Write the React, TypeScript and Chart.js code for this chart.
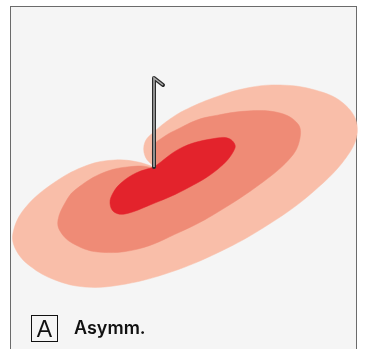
import React, { useEffect, useRef } from "react";
import { Chart, registerables } from "chart.js";

Chart.register(...registerables);

// Contour levels (outer → inner), points as [x, y] in plot units
const outerX = [154, 145, 145, 155, 170, 185, 213, 247, 280, 315, 343, 357, 350, 313, 263, 213, 165, 120, 85, 55, 30, 16, 13, 25, 55, 88, 115, 138, 154];
const outerY = [167, 156, 142, 131, 119, 110, 98, 88, 85, 90, 103, 125, 152, 192, 228, 255, 274, 285, 287, 280, 266, 250, 233, 208, 182, 165, 160, 162, 167];

const middleX = [154, 153, 165, 178, 197, 213, 247, 280, 298, 300, 292, 263, 213, 180, 138, 98, 72, 60, 58, 65, 75, 105, 138, 154];
const middleY = [168, 147, 136, 129, 120, 116, 111, 113, 124, 138, 156, 182, 215, 232, 249, 252, 243, 231, 220, 203, 190, 172, 166, 168];

const innerX = [154, 183, 217, 230, 235, 218, 184, 150, 125, 114, 110, 113, 121, 136, 154];
const innerY = [167, 147, 138, 139, 148, 169, 190, 205, 214, 212, 203, 193, 183, 173, 167];

const poleX = [154, 154, 163];
const poleY = [167, 78, 85];

const levelColors = ["#f9bea9", "#ef8b76", "#e3232c"];
const panelLabel = "A";
const panelTitle = "Asymm.";

const toPts = (xs: number[], ys: number[]) => xs.map((x, i) => ({ x, y: ys[i] }));

export default function App() {
  const ref = useRef<HTMLCanvasElement | null>(null);
  useEffect(() => {
    if (!ref.current) return;
    const shape = (xs: number[], ys: number[], c: string, order: number) => ({
      data: toPts(xs, ys),
      showLine: true,
      fill: "shape" as any,
      backgroundColor: c,
      borderColor: c,
      borderWidth: 0.5,
      pointRadius: 0,
      tension: 0.38,
      order,
    });
    const chart = new Chart(ref.current, {
      type: "scatter",
      data: {
        datasets: [
          shape(outerX, outerY, levelColors[0], 5),
          shape(middleX, middleY, levelColors[1], 4),
          shape(innerX, innerY, levelColors[2], 3),
          {
            data: toPts(poleX, poleY),
            showLine: true,
            borderColor: "#2a2a2a",
            borderWidth: 4,
            borderCapStyle: "round",
            borderJoinStyle: "round",
            pointRadius: 0,
            tension: 0,
            order: 2,
          } as any,
          {
            data: toPts(poleX, poleY),
            showLine: true,
            borderColor: "#b0b0b0",
            borderWidth: 1.5,
            pointRadius: 0,
            tension: 0,
            order: 1,
          } as any,
        ],
      },
      options: {
        responsive: false,
        maintainAspectRatio: false,
        animation: false,
        layout: { padding: 0 },
        plugins: { legend: { display: false }, tooltip: { enabled: false } },
        scales: {
          x: { type: "linear", min: 0, max: 367, display: false },
          y: { type: "linear", min: 0, max: 349, reverse: true, display: false },
        },
      },
    });
    return () => chart.destroy();
  }, []);

  return (
    <div style={{ position: "fixed", left: 0, top: 0, width: 367, height: 349, background: "#fff", overflow: "hidden" }}>
      <div
        style={{
          position: "absolute",
          left: 10,
          top: 6,
          width: 345,
          height: 360,
          border: "1.5px solid #6b6b6b",
          background: "#f5f5f5",
        }}
      />
      <canvas ref={ref} width={367} height={349} style={{ position: "absolute", left: 0, top: 0 }} />
      <div
        style={{
          position: "absolute",
          left: 31,
          top: 315,
          width: 25,
          height: 25,
          border: "1.5px solid #111",
          fontFamily: "'Liberation Sans', Arial, sans-serif",
          fontWeight: 300,
          fontSize: 23,
          lineHeight: "26px",
          textAlign: "center",
          color: "#111",
        }}
      >
        {panelLabel}
      </div>
      <div
        style={{
          position: "absolute",
          left: 74,
          top: 317,
          fontFamily: "Inter, 'Liberation Sans', sans-serif",
          fontWeight: 600,
          fontSize: 18,
          lineHeight: "22px",
          color: "#111",
        }}
      >
        {panelTitle}
      </div>
    </div>
  );
}
